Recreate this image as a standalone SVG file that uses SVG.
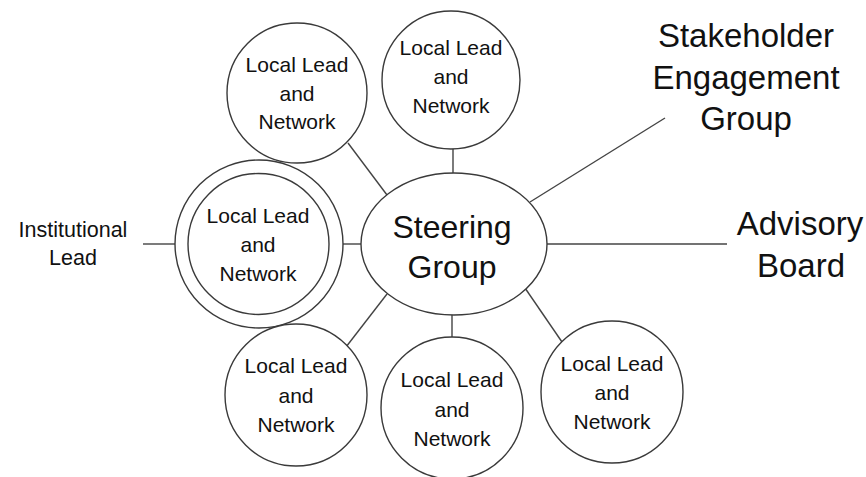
<svg xmlns="http://www.w3.org/2000/svg" width="866" height="477" viewBox="0 0 866 477">
<style>
.n{fill:#fff;stroke:#3a3a3a;stroke-width:1.4}
.c line{stroke:#444;stroke-width:1.4}
text{font-family:"Liberation Sans",Arial,sans-serif;fill:#111;text-anchor:middle}
.s{font-size:21px}
.b{font-size:33px}
.m{font-size:32px}
.i{font-size:21.5px}
</style>
<rect width="866" height="477" fill="#fff"/>
<g id="connectors" class="c">
<line x1="348" y1="143" x2="387" y2="195"/>
<line x1="453" y1="149" x2="453" y2="174"/>
<line x1="530" y1="202" x2="665" y2="118"/>
<line x1="547" y1="244" x2="727" y2="244"/>
<line x1="143" y1="244" x2="175" y2="244"/>
<line x1="329" y1="244" x2="361" y2="244"/>
<line x1="387" y1="294" x2="346" y2="347"/>
<line x1="452" y1="315" x2="452" y2="339"/>
<line x1="525" y1="288" x2="562" y2="342"/>
</g>
<g id="steering">
<ellipse class="n" cx="454" cy="244" rx="93" ry="71"/>
<text class="m" x="452" y="238">Steering</text>
<text class="m" x="452" y="278">Group</text>
</g>
<g id="local-top-left">
<circle class="n" cx="297" cy="93" r="70"/>
<text class="s" x="297" y="72">Local Lead</text>
<text class="s" x="297" y="101">and</text>
<text class="s" x="297" y="129">Network</text>
</g>
<g id="local-top">
<circle class="n" cx="451" cy="80" r="69"/>
<text class="s" x="451" y="55">Local Lead</text>
<text class="s" x="451" y="84">and</text>
<text class="s" x="451" y="113">Network</text>
</g>
<g id="local-institutional">
<circle class="n" cx="259" cy="244" r="84"/>
<circle class="n" cx="258.5" cy="244" r="70.5"/>
<text class="s" x="258" y="223">Local Lead</text>
<text class="s" x="258" y="252">and</text>
<text class="s" x="258" y="281">Network</text>
</g>
<g id="local-bottom-left">
<circle class="n" cx="296" cy="395" r="71"/>
<text class="s" x="296" y="373">Local Lead</text>
<text class="s" x="296" y="403">and</text>
<text class="s" x="296" y="432">Network</text>
</g>
<g id="local-bottom">
<circle class="n" cx="452" cy="408" r="71"/>
<text class="s" x="452" y="387">Local Lead</text>
<text class="s" x="452" y="417">and</text>
<text class="s" x="452" y="446">Network</text>
</g>
<g id="local-bottom-right">
<circle class="n" cx="612" cy="392" r="71"/>
<text class="s" x="612" y="371">Local Lead</text>
<text class="s" x="612" y="400">and</text>
<text class="s" x="612" y="429">Network</text>
</g>
<g id="stakeholder">
<text class="b" x="746" y="47">Stakeholder</text>
<text class="b" x="746" y="89">Engagement</text>
<text class="b" x="746" y="130">Group</text>
</g>
<g id="advisory">
<text class="b" x="800" y="235">Advisory</text>
<text class="b" x="801" y="277">Board</text>
</g>
<g id="institutional">
<text class="i" x="73" y="237">Institutional</text>
<text class="i" x="73" y="265">Lead</text>
</g>
</svg>
